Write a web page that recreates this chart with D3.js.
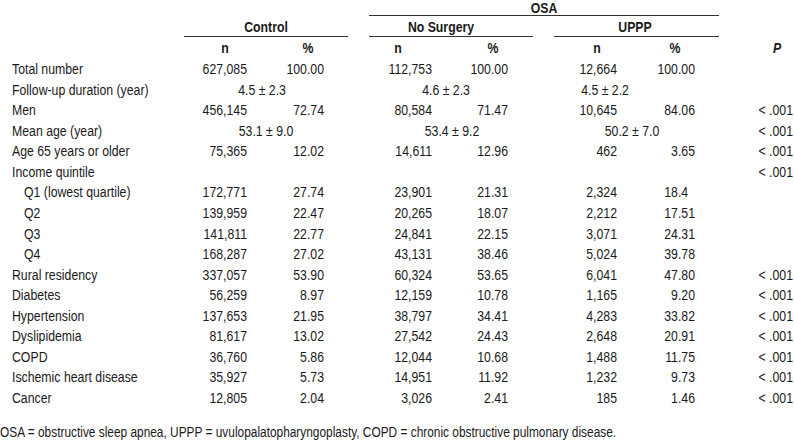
<!DOCTYPE html>
<html>
<head>
<meta charset="utf-8">
<script src="https://cdn.jsdelivr.net/npm/d3@7/dist/d3.min.js"></script>
<style>
html,body{margin:0;padding:0;background:#fff;}
svg{display:block;}
</style>
</head>
<body>
<svg id="chart" width="794" height="445"></svg>
<script>
// ---------------- data ----------------
const groupTop = "OSA";
const groups = ["Control", "No Surgery", "UPPP"];
const subHeaders = ["n", "%"];
const pHeader = "P";
const rowLabels = [
  "Total number", "Follow-up duration (year)", "Men", "Mean age (year)",
  "Age 65 years or older", "Income quintile", "Q1 (lowest quartile)", "Q2", "Q3", "Q4",
  "Rural residency", "Diabetes", "Hypertension", "Dyslipidemia", "COPD",
  "Ischemic heart disease", "Cancer"
];
const subRows = ["Q1 (lowest quartile)", "Q2", "Q3", "Q4"];
const controlN   = ["627,085","4.5 ± 2.3","456,145","53.1 ± 9.0","75,365","","172,771","139,959","141,811","168,287","337,057","56,259","137,653","81,617","36,760","35,927","12,805"];
const controlPct = ["100.00","","72.74","","12.02","","27.74","22.47","22.77","27.02","53.90","8.97","21.95","13.02","5.86","5.73","2.04"];
const noSurgN    = ["112,753","4.6 ± 2.3","80,584","53.4 ± 9.2","14,611","","23,901","20,265","24,841","43,131","60,324","12,159","38,797","27,542","12,044","14,951","3,026"];
const noSurgPct  = ["100.00","","71.47","","12.96","","21.31","18.07","22.15","38.46","53.65","10.78","34.41","24.43","10.68","11.92","2.41"];
const upppN      = ["12,664","4.5 ± 2.2","10,645","50.2 ± 7.0","462","","2,324","2,212","3,071","5,024","6,041","1,165","4,283","2,648","1,488","1,232","185"];
const upppPct    = ["100.00","","84.06","","3.65","","18.4","17.51","24.31","39.78","47.80","9.20","33.82","20.91","11.75","9.73","1.46"];
const pValues    = ["","","< .001","< .001","< .001","< .001","","","","","< .001","< .001","< .001","< .001","< .001","< .001","< .001"];
const footnote = "OSA = obstructive sleep apnea, UPPP = uvulopalatopharyngoplasty, COPD = chronic obstructive pulmonary disease.";

// ---------------- layout ----------------
const W = 794, H = 445;
const FS = 15;
const color = "#1a1a1a";
const svg = d3.select("#chart");

// font detection: narrow font available?
function fontAvailable(name){
  const c = document.createElement("canvas").getContext("2d");
  const s = "Follow-up duration (year) 0123456789";
  c.font = "20px monospace"; const a = c.measureText(s).width;
  c.font = "20px '" + name + "', monospace"; const b = c.measureText(s).width;
  return Math.abs(a - b) > 0.5;
}
let FAMILY, SX;
if (fontAvailable("Liberation Sans Narrow")) { FAMILY = "'Liberation Sans Narrow'"; SX = 1; }
else if (fontAvailable("Arial Narrow")) { FAMILY = "'Arial Narrow'"; SX = 1; }
else { FAMILY = "'Liberation Sans', Arial, sans-serif"; SX = 0.82; }

// column x scale (right edges of value columns)
const colKeys = ["cN","cP","nN","nP","uN","uP","p"];
const colX = d3.scaleOrdinal().domain(colKeys).range([247, 324, 432, 508, 617, 695, 793]);
const headX = d3.scaleOrdinal().domain(colKeys).range([225, 308, 398, 493, 597, 675, 777]);
const groupSpan = d3.scaleOrdinal().domain(groups).range([[184,348],[369,533],[554,719]]);
const groupTitleX = d3.scaleOrdinal().domain(groups).range([266, 441, 635]);
const osaSpan = [369, 719];
// centres of "mean ± SD" entries per row (they were not uniformly placed in the source)
const meanCenters = {"Follow-up duration (year)": [262, 446, 605], "Mean age (year)": [266, 452, 632]};

const y = d3.scalePoint().domain(rowLabels).range([74, 403]);

function txt(g, x, yy, s, opts={}){
  const t = g.append("text")
    .attr("transform", `translate(${x},${yy}) scale(${SX},1)`)
    .attr("font-family", FAMILY)
    .attr("font-size", opts.size || FS)
    .attr("fill", color)
    .attr("text-anchor", opts.anchor || "start")
    .text(s);
  if (opts.bold) t.attr("font-weight", "bold");
  if (opts.italic) t.attr("font-style", "italic");
  return t;
}

const g = svg.append("g");

// header lines
g.append("line").attr("x1", osaSpan[0]).attr("x2", osaSpan[1]).attr("y1", 15.5).attr("y2", 15.5)
  .attr("stroke", "#333").attr("stroke-width", 1);
txt(g, 544, 12.5, groupTop, {anchor:"middle", bold:true});
groups.forEach(gr => {
  const [a,b] = groupSpan(gr);
  g.append("line").attr("x1", a).attr("x2", b).attr("y1", 36.5).attr("y2", 36.5)
    .attr("stroke", "#333").attr("stroke-width", 1);
  txt(g, groupTitleX(gr), 32, gr, {anchor:"middle", bold:true});
});
// sub headers
[["cN","cP"],["nN","nP"],["uN","uP"]].forEach(pair => {
  pair.forEach((k,i) => txt(g, headX(k), 53, subHeaders[i], {anchor:"middle", bold:true}));
});
txt(g, headX("p"), 53, pHeader, {anchor:"middle", bold:true, italic:true});

// digit width for decimal alignment
const probe = txt(g, 0, -100, "0");
const digitW = probe.node().getComputedTextLength() * SX;
probe.remove();
function decShift(s){
  if (!s || s.indexOf(".") < 0) return 0;
  const d = s.split(".")[1].length;
  return (2 - d) * digitW;
}

// body rows
const cols = [
  {k:"cN", v:controlN}, {k:"cP", v:controlPct},
  {k:"nN", v:noSurgN}, {k:"nP", v:noSurgPct},
  {k:"uN", v:upppN}, {k:"uP", v:upppPct}
];
rowLabels.forEach((lab, i) => {
  const yy = y(lab);
  txt(g, subRows.includes(lab) ? 24 : 12, yy, lab);
  if (meanCenters[lab]) {
    [controlN, noSurgN, upppN].forEach((arr, j) => txt(g, meanCenters[lab][j], yy, arr[i], {anchor:"middle"}));
  } else {
    cols.forEach(c => {
      const s = c.v[i];
      if (s) txt(g, colX(c.k) - (c.k.endsWith("P") ? decShift(s) : 0), yy, s, {anchor:"end"});
    });
  }
  if (pValues[i]) txt(g, colX("p"), yy, pValues[i], {anchor:"end"});
});

// footnote
txt(g, 0, 437, footnote, {size:14.5});
</script>
</body>
</html>
